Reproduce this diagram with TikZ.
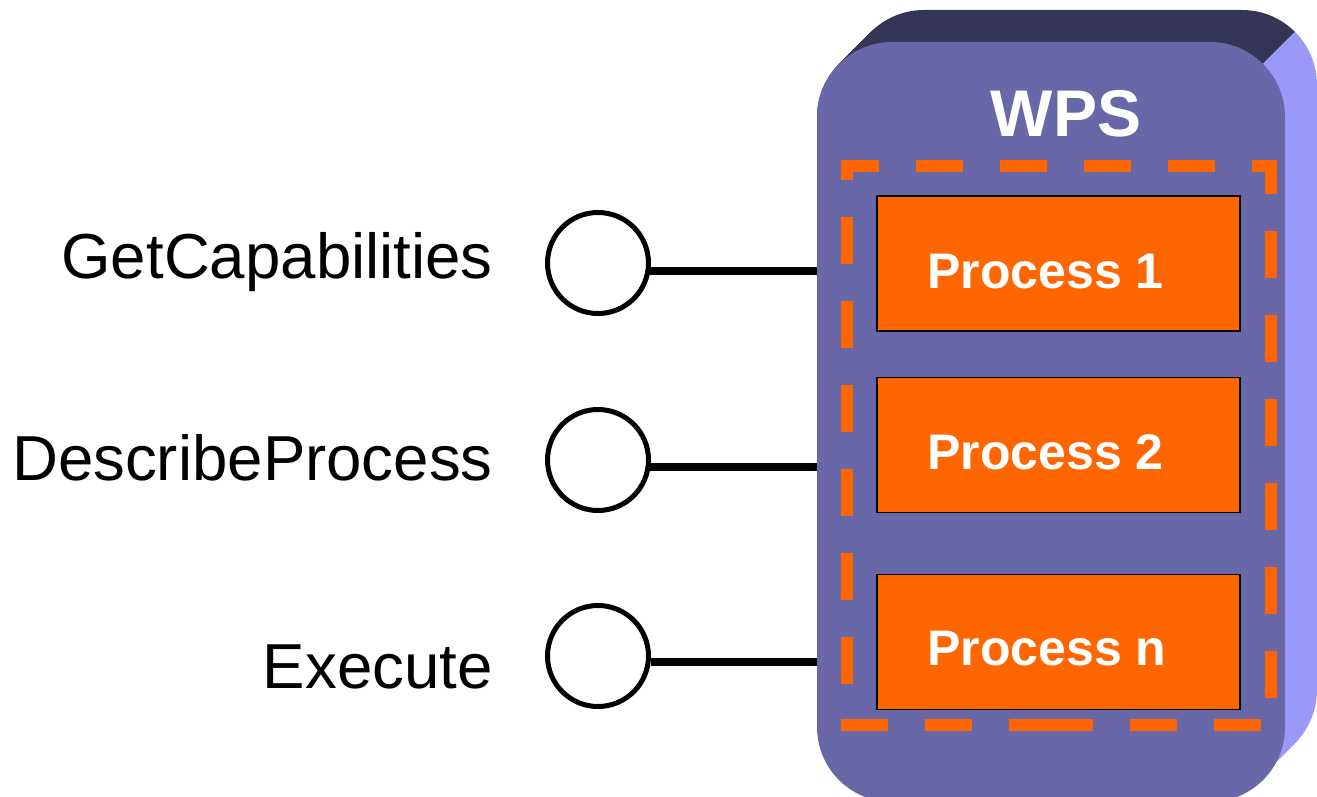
\documentclass[tikz,border=0pt]{standalone}
\usepackage{fontspec}
\setmainfont{Liberation Sans}
\definecolor{wpsfront}{HTML}{6868A8}
\definecolor{wpslight}{HTML}{9999F8}
\definecolor{wpsdark}{HTML}{353558}
\definecolor{procorange}{HTML}{FF6600}
\tikzset{
  front/.style={rectangle, rounded corners=75pt, fill=wpsfront, draw=none, inner sep=0pt},
  iface/.style={circle, draw=black, line width=5pt, fill=white, inner sep=0pt, minimum size=101pt},
  conn/.style={line width=8pt, draw=black},
  opname/.style={font=\fontsize{63.6}{70}\selectfont, text=black, inner sep=0pt, anchor=base east},
  procbox/.style={rectangle, draw=black, line width=1.6pt, fill=procorange, minimum width=363pt, minimum height=135pt, inner sep=0pt},
  proctext/.style={font=\fontsize{50}{60}\selectfont\bfseries, text=white, inner sep=0pt, anchor=base west},
  frame/.style={draw=procorange, line width=12pt, dash pattern=on 47pt off 37pt},
}
\begin{document}
\begin{tikzpicture}[x=1pt, y=-1pt]
\useasboundingbox (0,0) rectangle (1317,797);
% 3D extrusion of the WPS box (front face swept along the diagonal)
\begin{scope}
  \clip (1410,-83) -- (1010,317) -- (700,317) -- (700,-83) -- cycle;
  \foreach \t in {0,1,...,32}{
    \fill[wpsdark, rounded corners=75pt] (817+\t,42-\t) rectangle (1285+\t,797-\t);
  }
\end{scope}
\begin{scope}
  \clip (1410,-83) -- (1010,317) -- (1010,900) -- (1410,900) -- cycle;
  \foreach \t in {0,1,...,32}{
    \fill[wpslight, rounded corners=75pt] (817+\t,42-\t) rectangle (1285+\t,797-\t);
  }
\end{scope}
% front face
\node[front, minimum width=468pt, minimum height=760pt] (wps) at (1051,422) {};
\node[font=\fontsize{66}{70}\selectfont\bfseries, text=white, inner sep=0pt, anchor=base] (wpst) at (1066,137) {WPS};
% dashed frame
\coordinate (ftl) at (841,160);
\coordinate (ftr) at (1277,160);
\coordinate (fbl) at (841,731);
\coordinate (fbr) at (1277,731);
\draw[frame, dash phase=9pt] ([yshift=-6pt]ftl) -- ([yshift=-6pt]ftr);
\draw[frame, dash phase=13pt] ([xshift=-6pt]ftr) -- ([xshift=-6pt]fbr);
\draw[frame, dash phase=27pt] ([xshift=6pt]ftl) -- ([xshift=6pt]fbl);
\draw[frame] ([yshift=6pt]fbl) -- ([xshift=217pt, yshift=6pt]fbl);
\draw[frame] ([xshift=-16pt, yshift=6pt]fbr) -- ([xshift=-231pt, yshift=6pt]fbr);
% process boxes
\node[procbox] (p1) at (1058.5,263.5) {};
\node[procbox] (p2) at (1058.5,445) {};
\node[procbox] (p3) at (1058.5,642) {};
\node[proctext] (p1t) at ([xshift=51pt, yshift=-24.5pt]p1.west) {Process 1};
\node[proctext] (p2t) at ([xshift=51pt, yshift=-24.5pt]p2.west) {Process 2};
\node[proctext] (p3t) at ([xshift=51pt, yshift=-23.5pt]p3.west) {Process n};
% interfaces
\node[iface] (c1) at (598,263) {};
\node[iface] (c2) at (598,460) {};
\node[iface] (c3) at (598,656) {};
\draw[conn] (c1.-9) -- (c1.-9 -| wps.west);
\draw[conn] (c2.-8) -- (c2.-8 -| wps.west);
\draw[conn] (c3.-7) -- (c3.-7 -| wps.west);
% operation labels
\node[opname] (l1) at (493,278) {GetCapabilities};
\node[opname] (l2) at (493,480) {DescribeProcess};
\node[opname] (l3) at (493,688) {Execute};
\end{tikzpicture}
\end{document}
